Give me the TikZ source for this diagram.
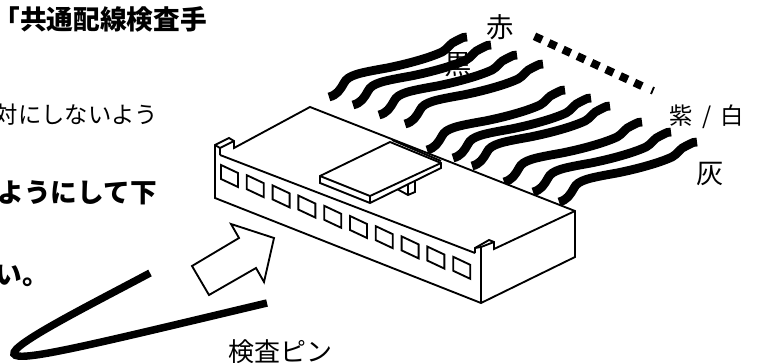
\documentclass[tikz,border=0pt]{standalone}
\usepackage{fontspec}
\setmainfont{Noto Sans CJK JP}
\usetikzlibrary{positioning, calc}
\tikzset{jlabel/.style={inner sep=0pt, font=\fontsize{20.5}{21}\selectfont}}
\tikzset{jbody/.style={inner sep=0pt, anchor=base east, font=\fontsize{17.5}{18}\selectfont}}
\tikzset{jhead/.style={inner sep=0pt, anchor=base east, font=\bfseries\fontsize{20}{21}\selectfont}}
\tikzset{housing/.style={draw=black, fill=white, line width=1.4pt, line join=miter}}
\tikzset{wire/.style={draw=black, line width=6.6pt}}
\begin{document}
\begin{tikzpicture}[x=0.75pt, y=-0.75pt]
      \useasboundingbox (0,0) rectangle (759,363);

      % TEXT

      \node[jhead] (headLine) at (207,30) {「共通配線検査手};
      \node[jbody] (bodyLine) at (158,124) {対にしないよう};
      \node[jhead] (stepLine) at (157,203) {いようにして下};
      \node[jhead] (endLine) at (49,284) {い。};

      % WIRES

      \foreach \wx/\wy in {329/97, 353/105, 379/115, 405/124, 427/150, 453/158, 472/166, 504/182, 533/192, 559/202}
        \draw[wire, shift={(\wx,\wy)}] (0,0) .. controls (8,-2) and (11,-7) .. (15,-14)
          .. controls (19,-22) and (30,-24) .. (58,-29)
          .. controls (78,-33) and (100,-39) .. (113,-45)
          .. controls (119,-48) and (121,-54) .. (127,-56)
          .. controls (131,-57) and (132,-60) .. (138,-60);

      % DOTTED LINE

      \draw[line width=6pt, dash pattern=on 6.2pt off 5.6pt] (534.5,36.3) -- (644,87);
      \draw[line width=1.4pt] (654,87) -- (651,94);

      % HOUSING

      \path[housing] (215,145) -- (229,138) -- (234,141) -- (234,148) -- (310,107) -- (575,211) -- (575,257) -- (481,303) -- (215,198) -- cycle;
      \draw[housing, fill=none] (220,155) -- (475,253);
      \draw[housing, fill=none] (215,145) -- (220,148) -- (220,155);
      \draw[housing, fill=none] (220,148) -- (234,141);
      \draw[housing, fill=none] (475,253) -- (475,248) -- (489,240) -- (494,242) -- (494,249) -- (575,211);
      \draw[housing, fill=none] (475,248) -- (481,247) -- (481,303);
      \draw[housing, fill=none] (481,247) -- (494,242);
      \foreach \n in {0,...,9}
        \draw[housing, fill=none] ($(221,165)+\n*(25.8,10.2)$) -- +(17,8) -- +(17,22) -- +(0,14) -- cycle;

      % LATCH

      \draw[housing] (397,189) -- (408,195) -- (415,192) -- (415,180) -- (408,183) -- (408,195);
      \draw[housing] (320,176) -- (390,142) -- (441,163) -- (441,168) -- (370,203) -- (320,183) -- cycle;
      \draw[housing, fill=none] (320,176) -- (370,196) -- (441,163);
      \draw[housing, fill=none] (370,196) -- (370,203);
      \draw[housing, fill=none] (392,140) -- (441,161);

      % ARROW AND PIN

      \draw[housing] (192,266) -- (209,295) -- (256,268) -- (264,282) -- (274,238) -- (231,224) -- (239,238) -- cycle;
      \draw[line width=5.6pt] (150,273) .. controls (90,305) and (10,345) .. (14,354) .. controls (18,363) and (90,345) .. (267,303);

      % LABELS

      \node[jlabel] (redLabel) at (500,27) {赤};
      \node[jlabel] (blackLabel) at (458,65) {黒};
      \node[jlabel, font=\fontsize{17.5}{18}\selectfont] (violetLabel) at (707,117) {紫 \hspace{3pt}/\hspace{3pt} 白};
      \node[jlabel] (grayLabel) at (710,174) {灰};
      \node[jlabel, font=\fontsize{19.5}{20}\selectfont] (pinLabel) at (280,352) {検査ピン};

\end{tikzpicture}
\end{document}
